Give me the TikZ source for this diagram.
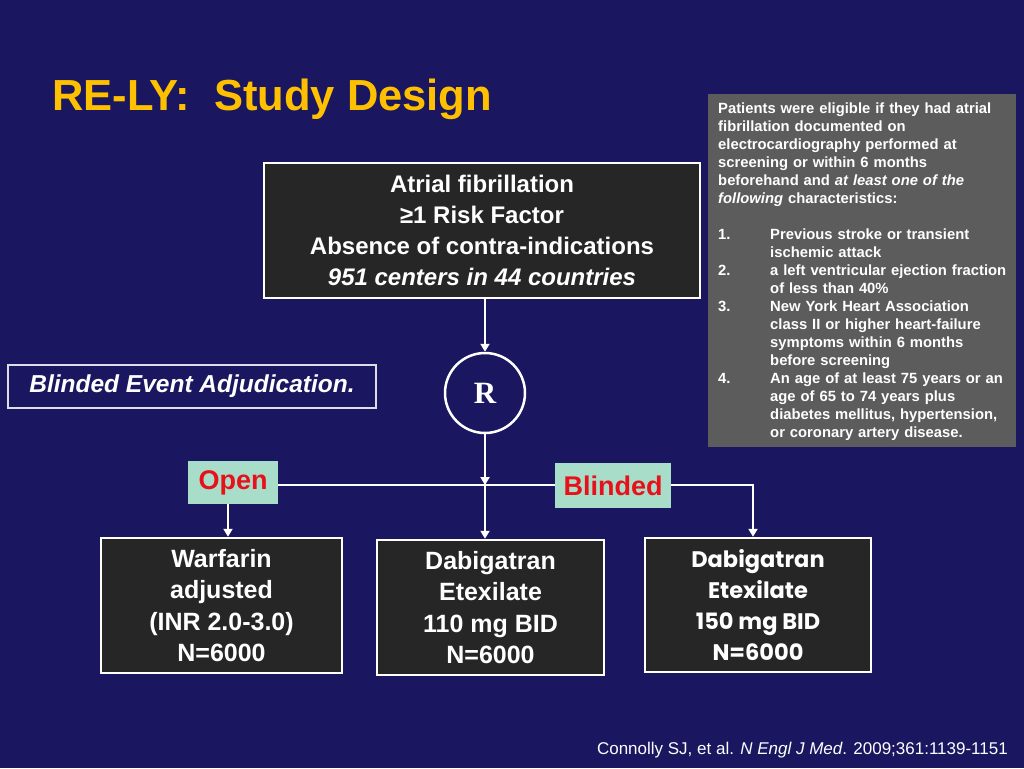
\documentclass[tikz,border=0pt]{standalone}
\usepackage{fontspec}
\setmainfont{Liberation Sans}
\newfontfamily\serifR{Liberation Serif}
\newfontfamily\gothic{Poppins}
\usetikzlibrary{arrows.meta}
\definecolor{navy}{RGB}{26,22,96}
\definecolor{gold}{RGB}{255,192,0}
\definecolor{boxfill}{RGB}{38,38,38}
\definecolor{infogray}{RGB}{92,92,92}
\definecolor{mint}{RGB}{168,221,201}
\definecolor{tagred}{RGB}{232,16,26}
\tikzset{
  darkbox/.style={draw=white, line width=2.5pt, fill=boxfill, text=white, align=center, inner sep=0pt},
  tagbox/.style={fill=mint, text=tagred, inner sep=0pt, font=\fontsize{27}{30}\selectfont\bfseries},
  conn/.style={draw=white, line width=2.8pt},
  arr/.style={conn, -{Triangle[width=9pt,length=8pt]}},
}
\begin{document}
\begin{tikzpicture}[x=1pt,y=-1pt]
\fill[navy] (0,0) rectangle (1024,768);
\useasboundingbox (0,0) rectangle (1024,768);

\node[anchor=base west, text=gold, font=\fontsize{43.5}{46}\selectfont\bfseries, inner sep=0pt] (title) at (52,110) {RE-LY:\ \ Study Design};

\node[darkbox, minimum width=436pt, minimum height=135pt, font=\fontsize{24}{31}\selectfont\bfseries] (top) at (482,230.5)
  {Atrial fibrillation\\ ≥1 Risk Factor\\ Absence of contra-indications\\ \itshape 951 centers in 44 countries};

\node[fill=infogray, minimum width=308pt, minimum height=353pt, inner sep=0pt] (info) at (862,270.5) {};
\node[anchor=north west, text=white, align=left, inner sep=0pt, text width=300pt, font=\fontsize{14.8}{18}\selectfont\bfseries] (infotext) at (718,102.5)
  {Patients were eligible if they had atrial\\
   fibrillation documented on\\
   electrocardiography performed at\\
   screening or within 6 months\\
   beforehand and \textit{at least one of the}\\
   \textit{following} characteristics:\\[18pt]
   \makebox[52pt][l]{1.}Previous stroke or transient\\
   \hspace*{52pt}ischemic attack\\
   \makebox[52pt][l]{2.}a left ventricular ejection fraction\\
   \hspace*{52pt}of less than 40\%\\
   \makebox[52pt][l]{3.}New York Heart Association\\
   \hspace*{52pt}class II or higher heart-failure\\
   \hspace*{52pt}symptoms within 6 months\\
   \hspace*{52pt}before screening\\
   \makebox[52pt][l]{4.}An age of at least 75 years or an\\
   \hspace*{52pt}age of 65 to 74 years plus\\
   \hspace*{52pt}diabetes mellitus, hypertension,\\
   \hspace*{52pt}or coronary artery disease.};

\node[draw=white!85!navy, line width=1.2pt, minimum width=368pt, minimum height=43pt, inner sep=0pt, text=white, font=\fontsize{24.5}{28}\selectfont\bfseries\itshape] (adj) at (192,386.5) {Blinded Event Adjudication.};

\node[circle, draw=white, line width=2.5pt, minimum size=80pt, inner sep=0pt, text=white, font=\fontsize{31}{34}\selectfont\serifR\bfseries] (R) at (485,393) {R};

\coordinate (j) at (485,485);

\node[tagbox, minimum width=90pt, minimum height=43pt] (open) at (233,482.5) {Open};
\node[tagbox, minimum width=116pt, minimum height=45pt] (blind) at (613,485.5) {Blinded};

\node[darkbox, minimum width=241pt, minimum height=135pt, font=\fontsize{25}{31.3}\selectfont\bfseries] (A) at (221.5,605.5)
  {Warfarin\\ adjusted\\ (INR 2.0-3.0)\\ N=6000};
\node[darkbox, minimum width=227pt, minimum height=135pt, font=\fontsize{25}{31.3}\selectfont\bfseries] (B) at (490.5,607.5)
  {Dabigatran\\ Etexilate\\ 110 mg BID\\ N=6000};
\node[darkbox, minimum width=226pt, minimum height=134pt, font=\fontsize{22.5}{31.3}\selectfont\gothic\bfseries] (C) at (758,605)
  {Dabigatran\\ Etexilate\\ 150 mg BID\\ N=6000};

\draw[arr] (R.north |- top.south) -- (R.north);
\draw[arr] (R.south) -- (j);
\draw[conn] (open.east |- j) -- (blind.west |- j);
\draw[arr] (blind.east |- j) -| ([xshift=-5pt]C.north);
\draw[arr] ([xshift=-5pt]open.south) -- ([xshift=-5pt]open.south |- A.north);
\draw[arr] ([yshift=3pt]j) -- (j |- B.north);

\node[anchor=base east, text=white, inner sep=0pt, font=\fontsize{17}{20}\selectfont] (ref) at (1008,754)
  {Connolly SJ, et al. \textit{N Engl J Med}. 2009;361:1139-1151};
\end{tikzpicture}
\end{document}
